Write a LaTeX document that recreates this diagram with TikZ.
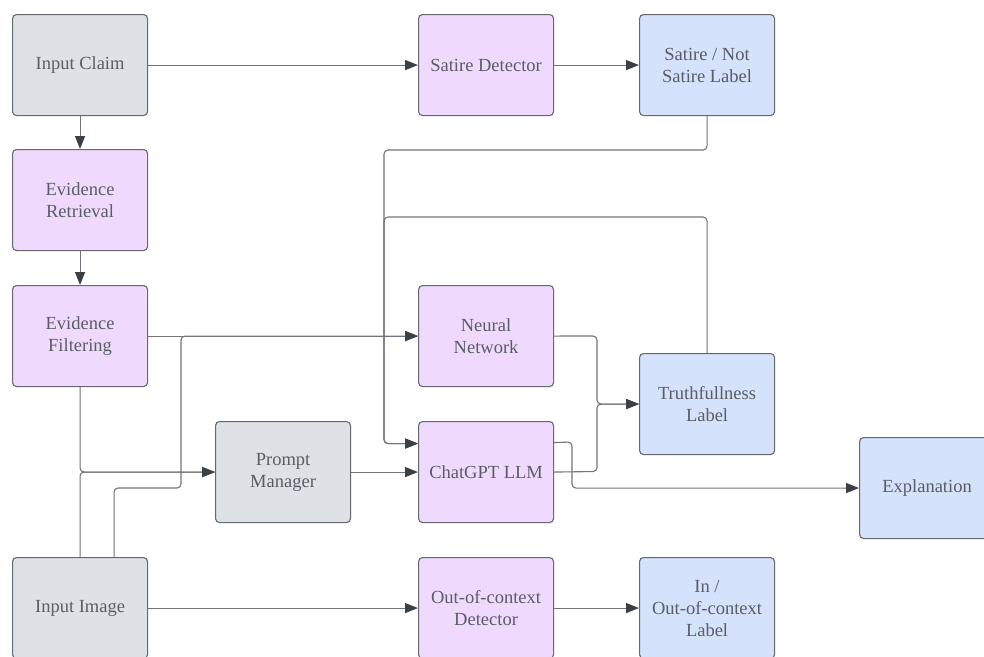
\documentclass[tikz,border=0pt]{standalone}
\usepackage{fontspec}
\setmainfont{Liberation Serif}
\newfontfamily\boxfont{Liberation Serif}
\usetikzlibrary{arrows.meta}
\definecolor{greyfill}{HTML}{DEE1E6}
\definecolor{purplefill}{HTML}{EFDAFE}
\definecolor{bluefill}{HTML}{D4E2FB}
\definecolor{edgecol}{HTML}{65686F}
\definecolor{wirecol}{HTML}{71747B}
\definecolor{tipcol}{HTML}{3B3F46}
\definecolor{inkcol}{HTML}{5A5D65}
\begin{document}
\begin{tikzpicture}[x=1pt,y=-1pt,
  box/.style={draw=edgecol, line width=1.1pt, rounded corners=4pt,
    minimum width=135pt, minimum height=101pt, inner sep=0pt,
    text=inkcol, font=\boxfont\fontsize{18.5}{22}\selectfont, align=center,
    anchor=north west},
  greybox/.style={box, fill=greyfill},
  purplebox/.style={box, fill=purplefill},
  bluebox/.style={box, fill=bluefill},
  wire/.style={draw=wirecol, line width=1.1pt, rounded corners=4pt},
  arr/.style={wire, -{Triangle[length=13pt,width=10pt,color=tipcol]}}]
\useasboundingbox (0,0) rectangle (984,656);
\clip (0,0) rectangle (984,656);
\fill[white] (0,0) rectangle (984,656);

% left column
\node[greybox]   (claim) at (12,14)  {Input Claim};
\node[purplebox] (ret)   at (12,149) {Evidence\\Retrieval};
\node[purplebox] (filt)  at (12,285) {Evidence\\Filtering};
\node[greybox]   (img)   at (12,557) {Input Image};

% middle
\node[greybox]   (prompt) at (215,421) {Prompt\\Manager};
\node[purplebox] (satdet) at (418,14)  {Satire Detector};
\node[purplebox] (nn)     at (418,285) {Neural\\Network};
\node[purplebox] (chat)   at (418,421) {ChatGPT LLM};
\node[purplebox] (oocdet) at (418,557) {Out-of-context\\Detector};

% outputs
\node[bluebox] (satlab) at (639,14)  {Satire / Not\\Satire Label};
\node[bluebox] (truth)  at (639,353) {Truthfullness\\Label};
\node[bluebox] (expl)   at (859,437) {Explanation};
\node[bluebox] (ooclab) at (639,557) {In /\\Out-of-context\\Label};

% straight links
\draw[arr] (claim.east) -- (satdet.west);
\draw[arr] (satdet.east) -- (satlab.west);
\draw[arr] (claim.south) -- (ret.north);
\draw[arr] (ret.south) -- (filt.north);
\draw[arr] (filt.east) -- (nn.west);
\draw[arr] (prompt.east) -- (chat.west);
\draw[arr] (img.east) -- (oocdet.west);
\draw[arr] (oocdet.east) -- (ooclab.west);

% into the prompt manager
\draw[arr] (filt.south) |- (prompt.west);
\draw[arr] (img.north) |- (prompt.west);

% image into the neural network
\draw[arr] ([xshift=34pt]img.north) |- (181,488) |- (nn.west);

% feedback into the LLM
\draw[arr] (satlab.south) |- (384,150) |- ([yshift=28.5pt]chat.west);
\draw[arr] (truth.north) |- (384,217) |- ([yshift=28.5pt]chat.west);

% towards the truthfulness label
\draw[arr] (nn.east) -- (597,336) |- (truth.west);
\draw[arr] (chat.east) -- (597,471.5) |- (truth.west);

% explanation
\draw[arr] ([yshift=29.5pt]chat.east) -- (572,442) |- (expl.west);
\end{tikzpicture}
\end{document}
